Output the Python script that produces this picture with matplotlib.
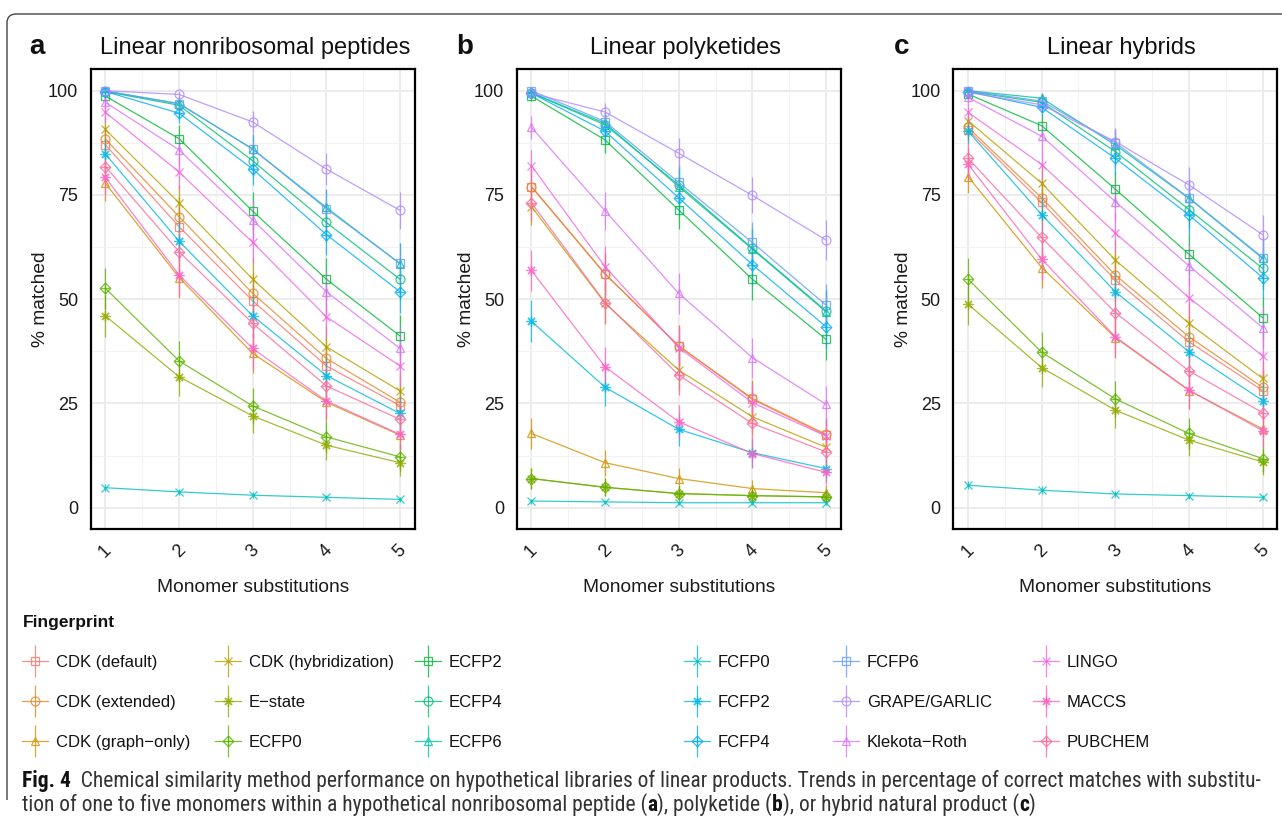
import math
import numpy as np
import matplotlib
matplotlib.use("Agg")
import matplotlib.pyplot as plt
from matplotlib.path import Path
from matplotlib.patches import PathPatch
from matplotlib.legend_handler import HandlerErrorbar

# ---------------- data ----------------
substitutions = [1, 2, 3, 4, 5]
fingerprints = ["CDK (default)", "CDK (extended)", "CDK (graph\u2212only)", "CDK (hybridization)",
                "E\u2212state", "ECFP0", "ECFP2", "ECFP4", "ECFP6", "FCFP0", "FCFP2", "FCFP4",
                "FCFP6", "GRAPE/GARLIC", "Klekota\u2212Roth", "LINGO", "MACCS", "PUBCHEM"]
panel_titles = ["Linear nonribosomal peptides", "Linear polyketides", "Linear hybrids"]
panel_letters = ["a", "b", "c"]
y_ticks = [0, 25, 50, 75, 100]

nrps_mean = [
    [87.0, 67.4, 49.6, 34.0, 24.5], [88.4, 69.8, 51.4, 35.8, 25.3], [77.8, 55.2, 37.0, 25.3, 17.4],
    [90.7, 73.1, 54.8, 38.6, 28.0], [46.0, 31.4, 22.0, 15.0, 10.8], [52.6, 35.2, 24.4, 17.0, 12.2],
    [98.7, 88.5, 71.1, 54.8, 41.2], [99.8, 96.5, 83.2, 68.4, 54.8], [99.9, 96.9, 86.0, 72.0, 58.5],
    [4.8, 3.8, 3.0, 2.5, 2.0], [84.8, 63.9, 46.0, 31.7, 22.6], [99.8, 94.6, 81.2, 65.5, 51.8],
    [99.9, 96.9, 86.0, 71.7, 58.6], [100.0, 99.1, 92.5, 81.2, 71.3], [97.2, 85.8, 69.0, 51.8, 38.2],
    [94.8, 80.5, 63.6, 45.8, 34.0], [79.2, 55.8, 38.2, 25.6, 17.6], [81.8, 61.4, 44.2, 29.2, 21.2]]
nrps_err = [
    [3.4, 4.7, 5.0, 4.7, 4.3], [3.2, 4.6, 5.0, 4.8, 4.4], [4.2, 5.0, 4.8, 4.4, 3.8],
    [2.9, 4.4, 5.0, 4.9, 4.5], [5.0, 4.6, 4.1, 3.6, 3.1], [5.0, 4.8, 4.3, 3.8, 3.3],
    [1.1, 3.2, 4.5, 5.0, 4.9], [0.4, 1.8, 3.7, 4.6, 5.0], [0.3, 1.7, 3.5, 4.5, 4.9],
    [0.9, 0.8, 0.7, 0.6, 0.6], [3.6, 4.8, 5.0, 4.7, 4.2], [0.4, 2.3, 3.9, 4.8, 5.0],
    [0.3, 1.7, 3.5, 4.5, 4.9], [0.2, 0.9, 2.6, 3.9, 4.5], [1.6, 3.5, 4.6, 5.0, 4.9],
    [2.2, 4.0, 4.8, 5.0, 4.7], [4.1, 5.0, 4.9, 4.4, 3.8], [3.9, 4.9, 5.0, 4.5, 4.1]]

pk_mean = [
    [77.0, 56.0, 38.8, 26.0, 17.4], [77.0, 56.1, 38.8, 26.2, 17.6], [17.8, 10.8, 7.0, 4.6, 3.6],
    [72.2, 49.0, 33.0, 21.8, 14.5], [7.0, 4.9, 3.4, 2.9, 2.6], [7.0, 4.9, 3.4, 2.9, 2.6],
    [98.7, 88.2, 71.4, 54.8, 40.4], [99.5, 91.8, 77.4, 62.2, 47.2], [99.5, 92.2, 77.0, 62.0, 47.0],
    [1.6, 1.4, 1.2, 1.2, 1.2], [44.7, 28.9, 18.8, 13.2, 9.4], [99.4, 90.3, 74.3, 58.3, 43.4],
    [100.0, 92.6, 78.0, 63.6, 48.6], [99.4, 94.9, 85.0, 74.9, 64.2], [91.2, 71.2, 51.4, 36.0, 24.8],
    [82.0, 57.8, 38.4, 25.2, 17.2], [56.9, 33.8, 20.6, 13.0, 8.5], [73.1, 49.2, 31.8, 20.2, 13.4]]
pk_err = [
    [4.2, 5.0, 4.9, 4.4, 3.8], [4.2, 5.0, 4.9, 4.4, 3.8], [3.8, 3.1, 2.6, 2.1, 1.9],
    [4.5, 5.0, 4.7, 4.1, 3.5], [2.6, 2.2, 1.8, 1.7, 1.6], [2.6, 2.2, 1.8, 1.7, 1.6],
    [1.1, 3.2, 4.5, 5.0, 4.9], [0.7, 2.7, 4.2, 4.9, 5.0], [0.7, 2.7, 4.2, 4.9, 5.0],
    [0.6, 0.5, 0.5, 0.5, 0.5], [5.0, 4.5, 3.9, 3.4, 2.9], [0.8, 3.0, 4.4, 4.9, 5.0],
    [0.3, 2.6, 4.1, 4.8, 5.0], [0.8, 2.2, 3.6, 4.3, 4.8], [2.8, 4.5, 5.0, 4.8, 4.3],
    [3.8, 4.9, 4.9, 4.3, 3.8], [5.0, 4.7, 4.0, 3.4, 2.8], [4.4, 5.0, 4.7, 4.0, 3.4]]

hyb_mean = [
    [90.6, 73.2, 54.6, 39.8, 28.1], [91.2, 74.3, 55.8, 41.0, 28.9], [79.4, 57.6, 40.8, 28.1, 18.9],
    [92.8, 77.8, 59.4, 44.2, 31.0], [48.8, 33.6, 23.4, 16.2, 11.0], [54.8, 37.3, 26.1, 17.8, 11.8],
    [99.2, 91.6, 76.4, 60.8, 45.6], [99.8, 97.2, 85.4, 71.5, 57.4], [100.0, 98.2, 87.0, 74.2, 59.8],
    [5.4, 4.2, 3.3, 2.9, 2.5], [90.3, 70.3, 51.8, 37.4, 25.7], [99.8, 96.0, 83.8, 70.2, 55.2],
    [100.0, 97.5, 87.5, 74.3, 60.0], [99.6, 96.6, 87.8, 77.4, 65.5], [98.4, 89.1, 73.4, 58.0, 43.2],
    [94.8, 82.3, 65.9, 50.4, 36.4], [82.4, 59.6, 41.0, 28.2, 18.5], [83.8, 64.8, 46.8, 32.8, 22.8]]
hyb_err = [
    [2.9, 4.4, 5.0, 4.9, 4.5], [2.8, 4.4, 5.0, 4.9, 4.5], [4.0, 4.9, 4.9, 4.5, 3.9],
    [2.6, 4.2, 4.9, 5.0, 4.6], [5.0, 4.7, 4.2, 3.7, 3.1], [5.0, 4.8, 4.4, 3.8, 3.2],
    [0.9, 2.8, 4.2, 4.9, 5.0], [0.4, 1.7, 3.5, 4.5, 4.9], [0.2, 1.3, 3.4, 4.4, 4.9],
    [1.0, 0.9, 0.8, 0.7, 0.6], [3.0, 4.6, 5.0, 4.8, 4.4], [0.4, 2.0, 3.7, 4.6, 5.0],
    [0.3, 1.6, 3.3, 4.4, 4.9], [0.6, 1.8, 3.3, 4.2, 4.8], [1.3, 3.1, 4.4, 4.9, 5.0],
    [2.2, 3.8, 4.7, 5.0, 4.8], [3.8, 4.9, 4.9, 4.5, 3.9], [3.7, 4.8, 5.0, 4.7, 4.2]]

panel_means = [nrps_mean, pk_mean, hyb_mean]
panel_errs = [nrps_err, pk_err, hyb_err]

# ---------------- styles ----------------
W, H = 1282, 826
FONT = ["Liberation Sans", "DejaVu Sans"]
CAPFONT = ["Liberation Sans Narrow", "Roboto Condensed", "Liberation Sans", "DejaVu Sans"]
plt.rcParams["font.family"] = FONT


def hcl_color(h, c=100.0, l=65.0):
    hr = math.radians(h)
    U, V = c * math.cos(hr), c * math.sin(hr)
    Xn, Yn, Zn = 95.047, 100.0, 108.883
    un = 4 * Xn / (Xn + 15 * Yn + 3 * Zn)
    vn = 9 * Yn / (Xn + 15 * Yn + 3 * Zn)
    Y = Yn * ((l + 16) / 116) ** 3
    u = U / (13 * l) + un
    v = V / (13 * l) + vn
    X = 9.0 * Y * u / (4 * v)
    Z = -X / 3 - 5 * Y + 3 * Y / v
    X, Y, Z = X / 100, Y / 100, Z / 100
    r = 3.240479 * X - 1.537150 * Y - 0.498535 * Z
    g = -0.969256 * X + 1.875992 * Y + 0.041556 * Z
    b = 0.055648 * X - 0.204043 * Y + 1.057311 * Z

    def gam(t):
        t = 12.92 * t if t <= 0.0031308 else 1.055 * t ** (1 / 2.4) - 0.055
        return min(max(t, 0.0), 1.0)
    return (gam(r), gam(g), gam(b), 0.8)


n = len(fingerprints)
hues = np.linspace(15, 375, n + 1)[:-1]
colors = [hcl_color(h) for h in hues]

diamond_plus = Path(
    [(0, 1), (1, 0), (0, -1), (-1, 0), (0, 1), (0, 1), (0, -1), (-1, 0), (1, 0)],
    [Path.MOVETO, Path.LINETO, Path.LINETO, Path.LINETO, Path.CLOSEPOLY,
     Path.MOVETO, Path.LINETO, Path.MOVETO, Path.LINETO])
shape_cycle = ["s", "o", "^", "x", (8, 2, 0), diamond_plus]
shape_size = [5.4, 6.4, 6.4, 6.2, 7.2, 7.6]

fig = plt.figure(figsize=(W / 100, H / 100), dpi=100)


def fx(px):
    return px / W


def fy(py):
    return 1 - py / H


panel_left = [90.7, 516.7, 953.3]
panel_w = 324.0
panel_top, panel_bot = 69.0, 529.0
title_cx = [255, 686, 1121]

handles = []
for p in range(3):
    L = panel_left[p]
    ax = fig.add_axes([fx(L), fy(panel_bot), panel_w / W, (panel_bot - panel_top) / H])
    ax.set_xlim(0.8, 5.2)
    ax.set_ylim(-5.1, 105.2)
    ax.set_xticks(substitutions)
    ax.set_xticks([1.5, 2.5, 3.5, 4.5], minor=True)
    ax.set_yticks(y_ticks)
    ax.set_yticks([12.5, 37.5, 62.5, 87.5], minor=True)
    ax.grid(True, which="major", color="#EBEBEB", lw=1.3, zorder=0)
    ax.grid(True, which="minor", color="#F2F2F2", lw=0.8, zorder=0)
    ax.set_axisbelow(True)
    for s in ax.spines.values():
        s.set_linewidth(1.6)
        s.set_color("black")
    ax.tick_params(which="both", length=0)
    ax.tick_params(axis="y", pad=9, labelsize=13, labelcolor="#1a1a1a")
    ax.tick_params(axis="x", pad=9, labelsize=13, labelcolor="#1a1a1a")
    for lab in ax.get_xticklabels():
        lab.set_rotation(45)
        lab.set_ha("center")
    ax.set_xlabel("Monomer substitutions", fontsize=13.8, labelpad=13, color="#1a1a1a")
    ax.set_ylabel("% matched", fontsize=13.8, labelpad=-1, color="#1a1a1a")

    for i in range(n):
        c = colors[i]
        eb = ax.errorbar(substitutions, panel_means[p][i], yerr=panel_errs[p][i], color=c,
                         marker=shape_cycle[i % 6], ms=shape_size[i % 6], mfc="none", mec=c,
                         mew=0.9, lw=0.9, elinewidth=0.9, capsize=0, label=fingerprints[i],
                         zorder=3 + i * 0.01)
        if p == 0:
            handles.append(eb)

    fig.text(fx(title_cx[p]), fy(48), panel_titles[p], fontsize=17, ha="center", va="center",
             color="#111")

letter_x = [29, 456, 894]
for p in range(3):
    fig.text(fx(letter_x[p]), fy(47), panel_letters[p], fontsize=20, fontweight="bold",
             ha="left", va="center", color="#111")

# ---------------- legend ----------------
fig.text(fx(23), fy(623), "Fingerprint", fontsize=12.5, fontweight="bold", ha="left",
         va="center", color="#111")
col_x = [22, 215, 415, 684, 833, 1033]
for ci in range(6):
    hs = handles[ci * 3:(ci + 1) * 3]
    labs = fingerprints[ci * 3:(ci + 1) * 3]
    leg = fig.legend(hs, labs, loc="upper left", bbox_to_anchor=(fx(col_x[ci]), fy(655)),
                     frameon=False, fontsize=12, ncol=1, numpoints=1, borderpad=0,
                     borderaxespad=0, handlelength=1.56, handletextpad=0.48,
                     labelspacing=1.5, handler_map={type(hs[0]): HandlerErrorbar(xerr_size=0.96)})
    for t in leg.get_texts():
        t.set_color("#111")

# ---------------- frame ----------------
r = 9
verts = [(7, 800), (7, 14 + r), (7, 14), (7 + r, 14), (W + 5, 14)]
verts = [(fx(a), fy(b)) for a, b in verts]
frame = Path(verts, [Path.MOVETO, Path.LINETO, Path.CURVE3, Path.CURVE3, Path.LINETO])
fig.patches.append(PathPatch(frame, transform=fig.transFigure, fill=False, lw=1.0,
                             edgecolor="#444444"))

# ---------------- caption ----------------
renderer = fig.canvas.get_renderer()


def seg_width(txt, bold, size):
    t1 = fig.text(0, 0, "|" + txt + "|", fontsize=size, family=CAPFONT,
                  fontweight="bold" if bold else "normal")
    t2 = fig.text(0, 0, "||", fontsize=size, family=CAPFONT,
                  fontweight="bold" if bold else "normal")
    w = t1.get_window_extent(renderer).width - t2.get_window_extent(renderer).width
    t1.remove()
    t2.remove()
    return w


line1 = [("Fig. 4", True), ("  Chemical similarity method performance on hypothetical libraries of linear "
                            "products. Trends in percentage of correct matches with substitu-", False)]
line2 = [("tion of one to five monomers within a hypothetical nonribosomal peptide (", False),
         ("a", True), ("), polyketide (", False), ("b", True), ("), or hybrid natural product (", False),
         ("c", True), (")", False)]

base = 12.0
w1 = sum(seg_width(t, b, base) for t, b in line1)
cap_size = base * (1262 - 22) / w1


def draw_line(segs, x0, y):
    x = x0
    for t, b in segs:
        fig.text(fx(x), fy(y), t, fontsize=cap_size, family=CAPFONT,
                 fontweight="bold" if b else "normal", ha="left", va="center",
                 color="#111" if b else "#333333")
        x += seg_width(t, b, cap_size)


draw_line(line1, 22, 781)
draw_line(line2, 22, 805)

fig.savefig("out.png", dpi=100)
